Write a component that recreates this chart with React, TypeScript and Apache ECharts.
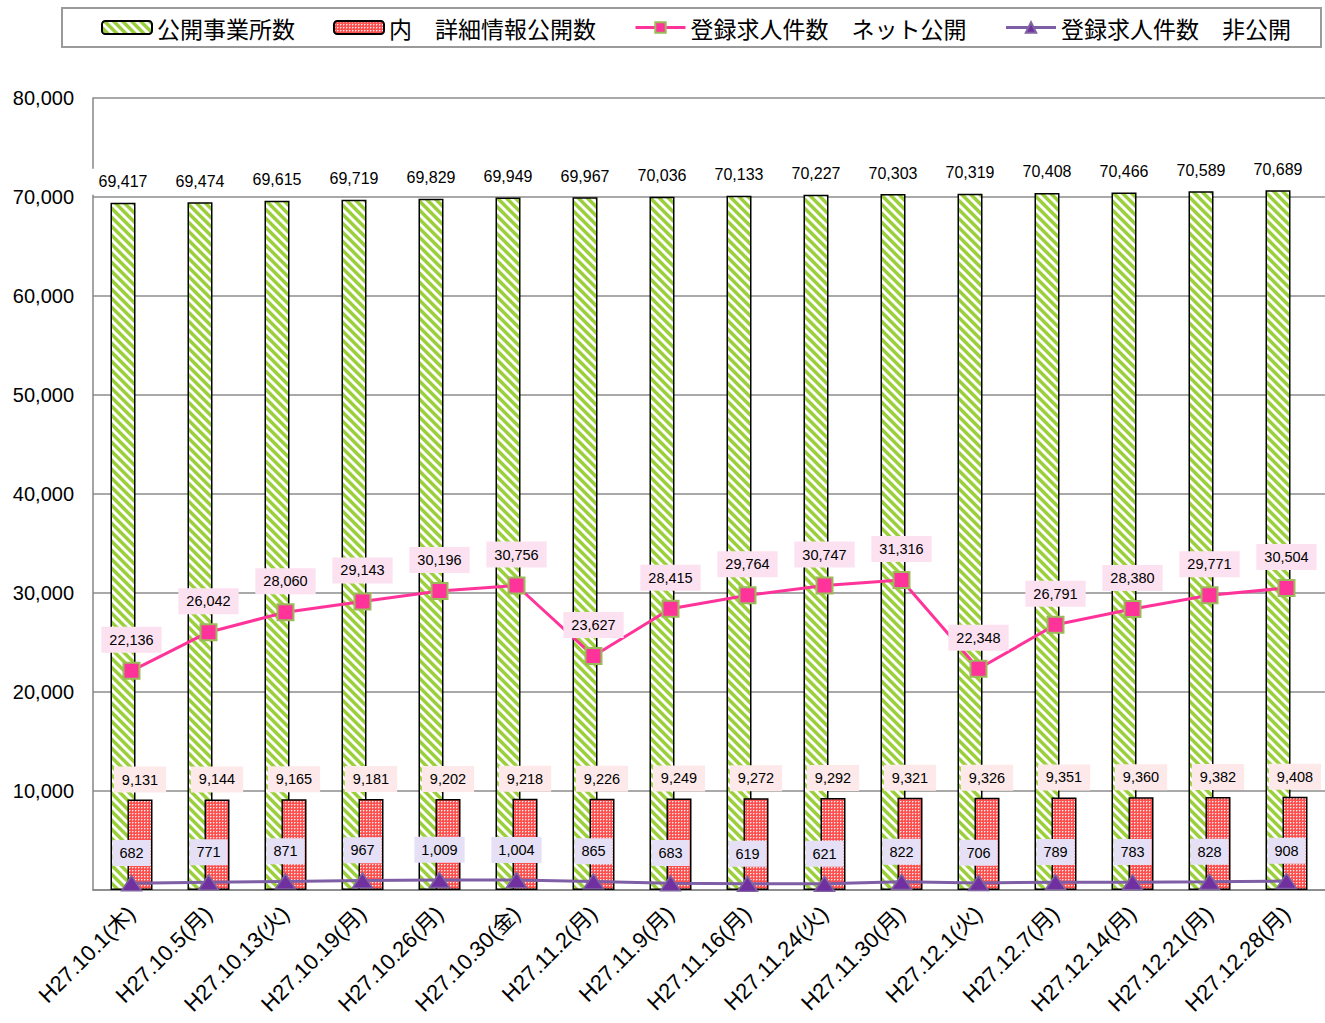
import React, { useEffect, useRef } from "react";
import * as echarts from "echarts";

const categories = [
  "H27.10.1(木)", "H27.10.5(月)", "H27.10.13(火)", "H27.10.19(月)",
  "H27.10.26(月)", "H27.10.30(金)", "H27.11.2(月)", "H27.11.9(月)",
  "H27.11.16(月)", "H27.11.24(火)", "H27.11.30(月)", "H27.12.1(火)",
  "H27.12.7(月)", "H27.12.14(月)", "H27.12.21(月)", "H27.12.28(月)",
];
const offices = [69417, 69474, 69615, 69719, 69829, 69949, 69967, 70036, 70133, 70227, 70303, 70319, 70408, 70466, 70589, 70689];
const detailed = [9131, 9144, 9165, 9181, 9202, 9218, 9226, 9249, 9272, 9292, 9321, 9326, 9351, 9360, 9382, 9408];
const netJobs = [22136, 26042, 28060, 29143, 30196, 30756, 23627, 28415, 29764, 30747, 31316, 22348, 26791, 28380, 29771, 30504];
const privateJobs = [682, 771, 871, 967, 1009, 1004, 865, 683, 619, 621, 822, 706, 789, 783, 828, 908];
const seriesNames = ["公開事業所数", "内　詳細情報公開数", "登録求人件数　ネット公開", "登録求人件数　非公開"];
const yMin = 0;
const yMax = 80000;
const yInterval = 10000;

function stripeCanvas(): HTMLCanvasElement {
  const P = 9;
  const c = document.createElement("canvas");
  c.width = P;
  c.height = P;
  const ctx = c.getContext("2d")!;
  const img = ctx.createImageData(P, P);
  const g = [155, 208, 60];
  for (let y = 0; y < P; y++) {
    for (let x = 0; x < P; x++) {
      let cov = 0;
      const S = 4;
      for (let sy = 0; sy < S; sy++) {
        for (let sx = 0; sx < S; sx++) {
          const fx = x + (sx + 0.5) / S;
          const fy = y + (sy + 0.5) / S;
          let d = (fx - fy) % P;
          if (d < 0) d += P;
          if (d < 5) cov++;
        }
      }
      const a = cov / (S * S);
      const i = (y * P + x) * 4;
      img.data[i] = Math.round(255 * (1 - a) + g[0] * a);
      img.data[i + 1] = Math.round(255 * (1 - a) + g[1] * a);
      img.data[i + 2] = Math.round(255 * (1 - a) + g[2] * a);
      img.data[i + 3] = 255;
    }
  }
  ctx.putImageData(img, 0, 0);
  return c;
}

function dotCanvas(): HTMLCanvasElement {
  const N = 6;
  const c = document.createElement("canvas");
  c.width = N;
  c.height = N;
  const ctx = c.getContext("2d")!;
  const img = ctx.createImageData(N, N);
  for (let y = 0; y < N; y++) {
    for (let x = 0; x < N; x++) {
      const i = (y * N + x) * 4;
      const dot = (x % 3 === 0 && y % 3 === 0);
      const half = (x % 3 === 0) !== (y % 3 === 0) && (x % 3 !== 2 && y % 3 !== 2);
      let col = [255, 80, 80];
      if (dot) col = [255, 235, 235];
      else if (half) col = [255, 150, 150];
      img.data[i] = col[0];
      img.data[i + 1] = col[1];
      img.data[i + 2] = col[2];
      img.data[i + 3] = 255;
    }
  }
  ctx.putImageData(img, 0, 0);
  return c;
}

const fmt = (v: number) => v.toLocaleString("en-US");
const labelFont = "'Liberation Sans', Arial, sans-serif";

export default function App() {
  const ref = useRef<HTMLDivElement>(null);
  useEffect(() => {
    document.body.style.margin = "0";
    if (!ref.current) return;
    const chart = echarts.init(ref.current, undefined, { renderer: "svg" });
    const green = { image: stripeCanvas(), repeat: "repeat" };
    const red = { image: dotCanvas(), repeat: "repeat" };
    const option: any = {
      animation: false,
      backgroundColor: "#ffffff",
      legend: {
        top: 8,
        left: 62,
        padding: [8, 30, 8, 39],
        itemGap: 38,
        itemWidth: 50,
        itemHeight: 13,
        borderColor: "#9a9a9a",
        borderWidth: 2,
        lineStyle: { width: 3 },
        textStyle: { fontSize: 23, lineHeight: 23, color: "#000", fontFamily: "'Noto Sans CJK JP', sans-serif" },
        data: seriesNames,
      },
      grid: { left: 93, right: 0, top: 98, bottom: 133 },
      xAxis: {
        type: "category",
        data: categories,
        axisLine: { lineStyle: { color: "#868686", width: 1.5 } },
        axisTick: { length: 6, lineStyle: { color: "#868686", width: 1.5 } },
        axisLabel: {
          rotate: 45,
          interval: 0,
          fontSize: 22,
          margin: 20,
          color: "#000",
          fontFamily: "'Liberation Sans', 'Noto Sans CJK JP', sans-serif",
        },
      },
      yAxis: {
        type: "value",
        min: yMin,
        max: yMax,
        interval: yInterval,
        axisLine: { show: true, lineStyle: { color: "#868686", width: 1.5 } },
        axisTick: { show: false },
        splitLine: { lineStyle: { color: "#8c8c8c", width: 1.5 } },
        axisLabel: {
          formatter: (v: number) => (v === 0 ? "" : fmt(v)),
          fontSize: 20,
          margin: 19,
          color: "#000",
          fontFamily: "'Liberation Sans', Arial, sans-serif",
        },
      },
      series: [
        {
          name: seriesNames[0],
          type: "bar",
          data: offices,
          barWidth: 25,
          barGap: "-32%",
          itemStyle: { color: green, borderColor: "#000", borderWidth: 1.5 },
          label: {
            show: true,
            position: "top",
            distance: 8,
            formatter: (p: any) => fmt(p.value),
            fontSize: 16,
            lineHeight: 18,
            color: "#000",
            fontFamily: labelFont,
            backgroundColor: "#ffffff",
            padding: [4, 8],
          },
        },
        {
          name: seriesNames[1],
          type: "bar",
          data: detailed,
          barWidth: 25,
          barGap: "-32%",
          itemStyle: { color: red, borderColor: "#000", borderWidth: 1.5 },
          label: {
            show: true,
            position: "top",
            distance: 7,
            formatter: (p: any) => fmt(p.value),
            fontSize: 14.5,
            lineHeight: 16,
            color: "#000",
            fontFamily: labelFont,
            backgroundColor: "#fde9e9",
            padding: [5, 8],
          },
        },
        {
          name: seriesNames[2],
          type: "line",
          data: netJobs,
          z: 5,
          symbol: "rect",
          symbolSize: 16,
          lineStyle: { color: "#ff3399", width: 3 },
          itemStyle: { color: "#ff3399", borderColor: "#9bbb59", borderWidth: 2 },
          label: {
            show: true,
            position: "top",
            distance: 9,
            formatter: (p: any) => fmt(p.value),
            fontSize: 14.5,
            lineHeight: 16,
            color: "#000",
            fontFamily: labelFont,
            backgroundColor: "#fce1f1",
            padding: [5, 8],
          },
        },
        {
          name: seriesNames[3],
          type: "line",
          data: privateJobs,
          z: 6,
          symbol: "triangle",
          symbolSize: [20, 15],
          lineStyle: { color: "#7e5fa6", width: 3 },
          itemStyle: { color: "#7030a0", borderColor: "#8064a2", borderWidth: 1.5 },
          label: {
            show: true,
            position: "top",
            distance: 9,
            formatter: (p: any) => fmt(p.value),
            fontSize: 14.5,
            lineHeight: 16,
            color: "#000",
            fontFamily: labelFont,
            backgroundColor: "#e6e0f7",
            padding: [5, 7],
          },
        },
      ],
    };
    chart.setOption(option);
    return () => chart.dispose();
  }, []);
  return <div ref={ref} style={{ width: 1325, height: 1023 }} />;
}
